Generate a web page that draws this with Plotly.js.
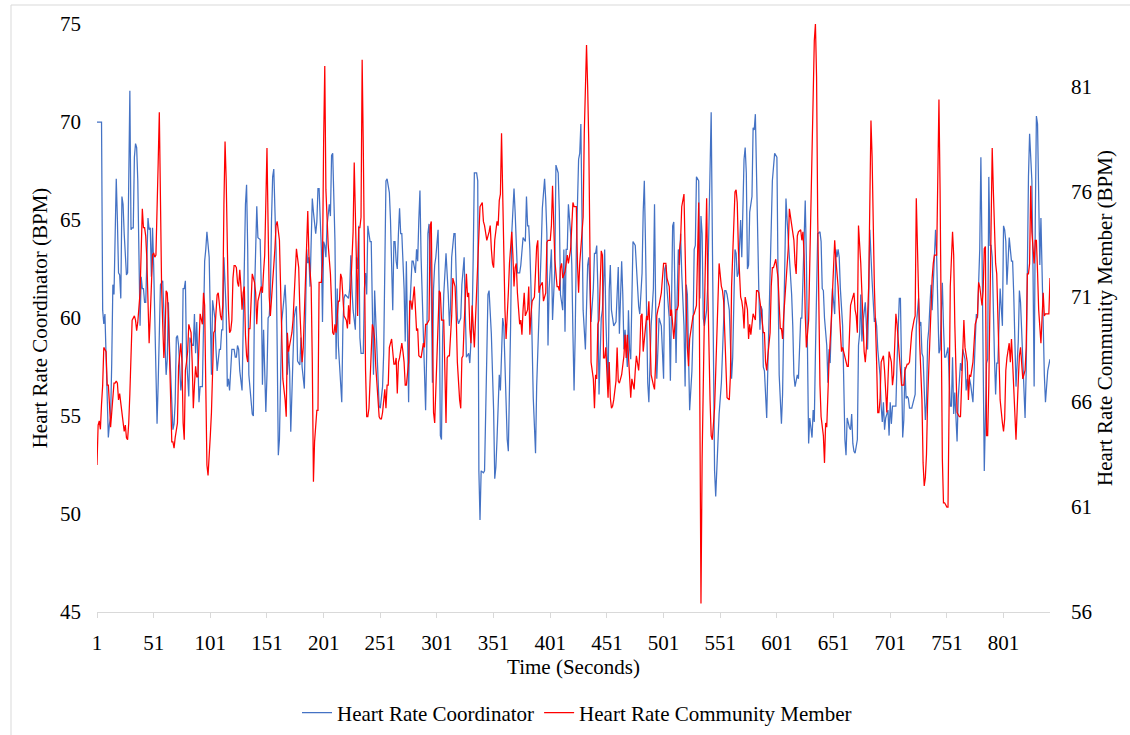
<!DOCTYPE html>
<html>
<head>
<meta charset="utf-8">
<script src="https://cdn.plot.ly/plotly-3.0.1.min.js"></script>
<style>
  html, body { margin: 0; padding: 0; background: #fff; }
  #chart { width: 1130px; height: 735px; }
</style>
</head>
<body>
<div id="chart"></div>
<script>
// Heart rate readings, [second, BPM]
const coordinatorReadings = [
[1,70.0],[5,70.0],[6,60.4],[7,59.7],[8,60.2],[9,58.4],[10,56.5],[11,53.9],[12,54.6],[13,54.9],[14,57.7],[15,61.7],[16,61.2],[17,65.4],[18,67.1],[19,65.0],[20,62.3],[21,62.2],[22,61.0],[23,66.2],[24,65.8],[25,64.3],[26,63.3],[27,62.2],[28,62.3],[29,67.4],[30,71.6],[31,64.5],[32,64.6],[33,64.6],[34,68.2],[35,68.9],[36,68.7],[37,67.0],[38,63.5],[39,59.6],[40,62.1],[41,61.5],[42,61.5],[43,60.8],[44,60.8],[46,65.1],[47,64.5],[48,64.6],[49,62.1],[50,64.6],[51,62.7],[52,60.0],[53,56.1],[54,54.6],[55,56.7],[56,60.4],[57,61.7],[59,61.9],[60,60.4],[61,58.4],[62,57.1],[63,57.9],[64,60.8],[65,58.6],[67,55.7],[68,54.3],[69,54.6],[70,55.7],[71,59.0],[72,59.1],[73,58.6],[75,56.3],[76,56.9],[77,61.5],[78,61.5],[79,61.9],[80,58.0],[81,56.9],[82,56.0],[83,59.0],[85,58.6],[86,58.6],[87,60.2],[88,58.2],[89,59.8],[90,57.9],[91,55.7],[92,56.5],[94,56.5],[95,59.6],[96,62.9],[97,63.5],[98,64.4],[100,63.1],[101,58.6],[102,57.1],[103,60.9],[104,60.4],[105,60.0],[106,58.4],[107,57.3],[109,58.4],[110,58.4],[111,59.4],[112,59.4],[113,63.1],[115,60.4],[116,56.5],[117,56.9],[118,56.3],[119,57.3],[120,58.4],[122,58.4],[123,58.0],[124,58.0],[125,58.6],[126,58.4],[127,57.3],[129,56.3],[130,59.6],[131,63.1],[132,65.8],[133,66.8],[134,63.5],[135,57.1],[137,55.5],[138,55.1],[139,55.0],
[140,61.2],[142,65.7],[143,64.1],[145,64.0],[146,61.5],[147,56.6],[148,59.4],[149,57.3],[150,55.2],[151,57.1],[152,60.0],[153,60.1],[154,61.2],[155,65.0],[156,67.2],[157,67.6],[159,63.5],[160,58.6],[161,53.0],[162,53.8],[163,56.9],[164,59.8],[166,61.0],[167,61.7],[168,60.4],[169,57.1],[170,58.4],[171,57.3],[172,54.2],[174,57.9],[175,60.0],[176,60.4],[177,60.6],[178,57.8],[180,57.6],[181,59.0],[182,57.5],[184,56.4],[185,59.8],[186,63.5],[187,62.8],[188,63.1],[189,61.6],[190,63.7],[191,66.1],[192,65.4],[194,64.3],[195,64.9],[196,66.6],[197,66.6],[199,63.5],[200,59.8],[201,63.9],[202,63.7],[203,63.1],[204,64.7],[206,65.8],[207,65.2],[208,68.3],[209,68.4],[211,63.9],[212,57.9],[213,61.5],[214,58.6],[216,56.5],[217,55.7],[218,59.6],[219,61.0],[220,61.2],[222,61.1],[223,61.0],[224,61.5],[225,63.2],[226,61.5],[227,60.4],[229,59.4],[230,63.1],[231,62.5],[232,64.7],[233,59.0],[234,58.2],[236,58.2],[237,61.5],[238,62.3],[239,61.2],[240,64.7],[242,63.9],[243,63.9],[244,60.0],[245,57.1],[246,61.4],[247,60.0],[249,56.9],[250,55.5],[251,55.4],[252,56.1],[253,56.5],[254,58.2],[256,67.0],[257,67.1],[258,66.6],[259,66.4],[260,65.0],[262,60.4],[263,63.9],[264,63.9],[265,62.9],[266,62.5],[267,64.3],[268,65.6],[269,64.3],[270,64.3],[272,61.5],[273,58.8],[274,62.9],[275,59.2],[276,55.7],[277,60.4],[279,62.9],[280,62.9],
[282,62.3],[283,63.5],[284,62.9],[285,65.0],[286,66.5],[287,63.1],[289,59.2],[290,56.7],[291,55.3],[292,58.4],[293,64.3],[294,64.8],[296,61.5],[297,56.7],[298,61.5],[299,62.7],[300,63.1],[302,64.5],[303,61.2],[304,54.0],[305,53.8],[306,59.0],[307,61.2],[309,63.3],[310,62.3],[311,61.2],[312,59.6],[313,60.6],[314,63.1],[316,64.3],[317,64.3],[318,62.3],[319,60.0],[320,59.7],[322,60.0],[323,61.7],[324,62.7],[325,63.1],[326,60.4],[327,58.0],[329,58.2],[330,57.7],[331,58.8],[332,59.6],[333,63.1],[334,67.4],[336,67.4],[337,67.0],[338,52.2],[339,49.7],[340,52.2],[342,52.1],[343,52.2],[344,54.6],[345,58.1],[346,61.2],[347,61.4],[349,59.2],[350,57.5],[351,55.3],[352,51.8],[353,52.4],[354,53.8],[355,55.7],[356,57.1],[357,56.3],[358,58.4],[359,60.0],[360,59.6],[362,54.9],[363,53.8],[364,53.2],[365,56.1],[366,59.6],[367,64.3],[368,65.4],[369,66.6],[370,65.4],[372,62.3],[373,62.3],[374,62.3],[375,62.7],[376,63.5],[377,64.1],[379,63.9],[380,66.2],[381,64.7],[382,64.7],[383,63.5],[384,61.5],[386,55.9],[387,54.2],[388,53.1],[389,56.5],[390,58.2],[391,59.0],[392,60.8],[393,63.5],[394,65.6],[396,67.1],[397,66.0],[398,64.3],[399,58.6],[400,61.5],[402,63.5],[403,59.9],[405,62.5],[406,67.8],[407,67.6],[408,67.4],[409,65.4],[410,61.2],[412,60.4],[413,63.5],[414,59.3],[415,63.5],[416,63.5],[417,65.8],[419,64.3],[420,62.7],
[421,59.2],[422,56.3],[423,59.2],[424,63.5],[426,68.1],[427,68.4],[428,69.9],[429,65.2],[430,60.4],[432,58.4],[433,60.4],[434,62.7],[435,63.1],[436,61.5],[437,59.8],[439,61.5],[440,63.3],[441,63.3],[442,63.7],[443,61.5],[444,56.1],[446,60.0],[447,60.4],[448,61.7],[449,63.5],[450,60.0],[452,56.5],[453,61.4],[454,62.7],[455,60.4],[456,60.0],[457,59.6],[459,59.8],[460,61.5],[461,62.6],[462,59.2],[463,61.4],[464,62.9],[465,61.2],[466,58.4],[467,59.4],[469,57.5],[470,60.4],[471,58.4],[472,57.9],[473,60.8],[474,63.9],[476,63.7],[477,62.5],[478,61.2],[479,60.6],[480,60.2],[482,62.3],[483,65.4],[484,67.0],[485,63.9],[486,59.6],[487,56.7],[488,55.7],[489,57.3],[490,59.6],[492,61.5],[493,65.8],[494,60.6],[495,56.9],[496,58.4],[497,60.0],[499,59.6],[500,57.7],[501,56.9],[502,62.5],[503,62.7],[504,61.5],[506,60.0],[507,56.8],[508,61.5],[509,64.7],[510,64.9],[512,57.7],[513,61.2],[514,63.5],[515,62.7],[516,64.3],[517,62.3],[519,59.6],[520,56.5],[521,61.7],[522,61.2],[523,58.8],[524,55.3],[526,57.3],[527,59.4],[528,63.5],[529,63.7],[530,67.2],[532,67.0],[533,61.0],[534,65.2],[535,64.3],[536,60.0],[537,59.6],[539,60.4],[540,61.7],[541,65.0],[542,68.9],[543,70.5],[544,64.3],[546,52.2],[547,50.9],[548,52.2],[549,53.8],[550,55.1],[552,56.7],[553,58.4],[554,60.4],[555,61.4],[556,61.4],[557,61.2],[559,60.4],[560,58.6],[561,56.9],[562,58.0],
[563,60.8],[564,63.5],[565,63.3],[566,62.1],[567,62.3],[569,65.0],[570,63.1],[572,68.1],[573,68.7],[574,67.4],[575,62.5],[576,62.7],[577,65.4],[579,66.2],[580,69.7],[581,69.6],[582,70.4],[583,67.0],[585,61.5],[586,59.4],[587,60.6],[588,60.4],[589,57.5],[590,57.3],[592,54.9],[593,57.5],[594,60.0],[595,61.9],[596,64.3],[597,67.0],[599,68.4],[600,68.3],[601,68.2],[602,62.1],[603,57.1],[605,54.6],[606,56.1],[607,59.6],[608,64.3],[609,66.1],[610,65.0],[612,63.1],[613,62.5],[614,61.2],[615,59.6],[616,57.1],[617,56.5],[619,57.1],[620,56.9],[621,58.1],[622,60.0],[623,60.0],[625,64.5],[626,66.0],[627,63.1],[628,59.2],[629,53.6],[630,54.9],[632,53.9],[633,55.3],[634,54.7],[635,58.2],[636,61.5],[637,64.3],[639,64.4],[640,63.9],[641,61.5],[642,61.4],[643,60.0],[645,58.6],[646,56.7],[647,58.4],[648,57.7],[649,59.6],[650,61.5],[652,60.2],[653,63.5],[654,63.1],[655,63.5],[656,63.1],[657,61.5],[659,59.6],[660,55.7],[661,53.8],[662,53.0],[663,54.9],[665,54.4],[666,54.3],[667,55.1],[668,53.6],[669,53.2],[670,53.1],[672,53.8],[673,58.6],[674,59.2],[675,61.2],[676,58.8],[677,59.8],[679,60.8],[680,59.8],[681,58.4],[682,60.8],[683,64.5],[685,61.9],[686,60.4],[687,59.8],[688,60.0],[689,59.6],[690,58.4],[692,57.1],[693,55.5],[694,54.7],[695,55.7],[696,54.3],[697,54.9],[699,55.3],[700,54.0],[701,55.7],[702,54.6],[703,55.5],
[705,55.5],[706,55.5],[707,57.7],[709,61.0],[710,61.0],[711,57.7],[712,53.9],[713,54.8],[714,57.5],[715,55.9],[716,56.0],[717,55.9],[718,55.4],[720,55.4],[721,55.7],[722,55.9],[723,56.1],[724,59.6],[726,61.0],[727,59.6],[728,59.8],[729,58.2],[730,58.0],[732,54.8],[733,55.7],[734,58.8],[735,59.4],[736,60.6],[737,61.7],[738,60.4],[740,62.7],[741,64.5],[742,63.1],[743,59.6],[744,58.2],[745,58.4],[747,61.8],[748,59.6],[749,58.0],[750,58.0],[751,58.2],[752,58.5],[754,55.5],[755,55.5],[756,58.0],[757,55.1],[758,56.2],[760,53.7],[761,55.9],[762,56.7],[763,57.7],[764,57.3],[765,58.4],[767,57.9],[768,56.3],[769,56.9],[770,56.3],[771,56.9],[772,56.6],[774,55.7],[775,57.9],[776,58.8],[777,60.2],[778,60.0],[780,63.5],[781,68.2],[782,63.5],[783,57.9],[784,52.2],[786,57.7],[787,57.9],[788,67.2],[789,63.7],[790,63.7],[791,63.1],[793,58.0],[794,56.1],[795,57.7],[796,57.7],[797,59.6],[798,61.5],[800,59.6],[801,64.7],[802,64.5],[803,63.9],[804,61.7],[805,63.1],[806,64.1],[808,62.9],[809,62.9],[810,61.2],[811,59.0],[812,56.5],[814,58.8],[815,61.4],[816,60.8],[817,59.2],[818,57.1],[820,54.9],[821,57.3],[822,64.3],[823,67.2],[824,69.4],[826,67.0],[827,62.5],[828,56.5],[829,64.9],[830,70.3],[831,69.9],[832,65.0],[833,62.7],[834,65.1],[835,61.7],[837,57.1],[838,55.7],[839,56.5],[840,57.3],[842,57.9]
];

const communityMemberReadings = [
[1,63.0],[2,64.9],[3,65.1],[4,64.7],[5,65.9],[6,66.8],[7,68.6],[9,68.4],[10,66.8],[11,66.8],[12,65.9],[13,64.8],[14,65.5],[15,66.1],[16,66.9],[17,66.9],[18,67.0],[19,66.9],[20,66.1],[21,66.4],[22,65.9],[23,65.3],[25,64.6],[26,64.9],[27,64.3],[28,64.2],[29,65.0],[30,66.4],[31,68.2],[32,69.9],[34,70.1],[35,69.9],[36,69.4],[37,69.8],[39,71.2],[40,74.1],[41,75.2],[42,74.3],[43,74.3],[44,73.9],[45,72.8],[46,70.8],[47,68.8],[48,70.1],[49,71.9],[50,73.0],[51,73.1],[52,72.9],[53,73.0],[54,74.8],[55,77.4],[56,79.8],[57,74.3],[58,71.5],[59,69.7],[60,68.1],[61,69.0],[62,71.3],[63,71.2],[64,70.1],[65,68.2],[66,65.9],[67,64.1],[68,64.1],[69,63.8],[70,64.3],[71,64.7],[72,65.0],[73,67.7],[74,68.4],[75,68.8],[76,67.9],[77,65.0],[78,64.2],[79,67.5],[80,67.9],[81,68.4],[82,69.7],[83,69.5],[84,69.3],[85,67.9],[86,65.7],[87,66.8],[88,67.7],[89,67.2],[90,67.2],[92,70.2],[93,69.9],[94,69.7],[95,71.2],[96,70.6],[97,66.8],[98,63.0],[99,62.5],[100,63.3],[101,64.4],[102,65.5],[103,67.3],[104,69.3],[105,69.4],[106,70.1],[107,71.1],[108,71.2],[109,70.6],[110,70.1],[111,69.9],[112,70.6],[113,75.4],[114,78.4],[115,76.6],[116,73.3],[117,70.4],[118,69.3],[119,69.4],[120,69.9],[121,71.9],[122,72.5],[123,72.5],[124,72.4],[125,71.7],[126,71.5],[127,72.3],[128,71.5],[129,70.4],[130,71.2],[131,71.5],[132,69.2],[133,68.2],[134,67.9],[135,69.5],[136,69.5],[137,71.2],[138,72.1],
[140,71.7],[141,71.2],[142,69.7],[143,70.8],[146,71.5],[147,71.2],[148,72.2],[149,73.0],[150,75.5],[151,78.1],[152,74.4],[153,71.0],[154,70.1],[156,71.5],[157,72.6],[158,73.3],[159,74.4],[160,74.6],[162,73.7],[163,71.5],[164,69.0],[165,67.1],[167,66.1],[168,65.3],[169,69.3],[170,68.4],[172,69.0],[173,69.3],[174,69.9],[175,70.8],[176,72.2],[177,73.3],[179,72.4],[180,70.4],[181,68.8],[182,67.9],[183,68.6],[184,70.4],[186,73.3],[187,75.1],[188,73.0],[189,72.4],[190,71.5],[191,67.9],[192,62.2],[193,64.1],[194,65.1],[195,65.6],[196,65.6],[197,71.7],[199,71.7],[200,72.6],[201,78.4],[202,82.0],[203,76.1],[204,74.6],[205,73.5],[207,72.1],[208,70.4],[209,69.3],[210,69.2],[211,69.7],[212,69.3],[214,70.8],[215,70.8],[216,72.1],[217,71.9],[218,70.6],[219,70.1],[221,69.9],[222,69.5],[223,70.6],[224,69.7],[225,71.5],[227,74.1],[228,77.4],[229,74.6],[230,71.7],[231,70.1],[232,74.3],[233,74.3],[234,74.8],[235,82.3],[236,78.1],[237,71.2],[238,67.5],[239,65.3],[240,65.3],[241,65.7],[243,67.9],[244,69.7],[245,69.5],[246,69.0],[247,67.7],[249,66.2],[250,65.3],[251,65.2],[252,65.2],[253,65.5],[255,66.6],[256,65.7],[257,66.8],[258,66.8],[259,68.6],[261,69.0],[262,68.2],[263,67.8],[264,67.8],[265,68.1],[266,66.4],[267,67.9],[268,68.1],[270,68.8],[271,68.4],[272,67.9],[273,66.8],[274,66.8],[276,67.9],[277,70.8],[278,70.8],[279,70.4],
[281,71.5],[282,70.2],[283,69.4],[284,69.5],[285,68.2],[287,68.1],[288,68.6],[289,68.8],[290,68.6],[291,69.7],[292,69.7],[294,69.9],[295,74.4],[296,74.6],[297,69.7],[298,65.5],[299,65.0],[301,68.6],[302,70.4],[303,71.3],[304,71.2],[305,69.9],[307,69.9],[308,67.1],[309,65.0],[310,68.1],[311,68.2],[312,68.2],[314,70.1],[315,71.9],[316,71.7],[317,71.5],[318,70.1],[319,67.9],[321,66.1],[322,65.7],[323,68.1],[324,68.2],[325,69.7],[327,72.1],[328,71.0],[329,71.2],[330,69.5],[331,68.8],[332,70.6],[334,68.6],[335,69.9],[336,71.2],[337,72.6],[338,74.1],[339,75.3],[341,75.5],[342,74.6],[343,74.4],[344,73.9],[345,73.7],[347,74.1],[348,74.4],[349,73.3],[350,72.6],[351,72.4],[352,73.7],[354,74.6],[355,74.4],[356,75.6],[357,75.9],[358,78.8],[359,75.7],[361,70.4],[362,69.0],[363,69.9],[364,71.2],[365,72.6],[367,74.1],[368,73.0],[369,71.5],[370,72.4],[371,72.6],[372,71.2],[374,69.7],[375,69.9],[376,69.2],[377,70.4],[378,71.2],[379,70.1],[381,70.4],[382,71.5],[383,69.2],[384,70.2],[385,70.8],[387,71.0],[388,72.2],[389,73.4],[390,73.7],[391,71.2],[392,71.5],[394,71.7],[395,70.8],[396,71.0],[397,71.2],[398,73.6],[399,73.7],[401,73.7],[402,74.4],[403,76.3],[404,74.6],[405,72.8],[407,71.5],[408,71.5],[409,71.3],[410,72.4],[411,72.6],[412,71.9],[414,72.2],[415,72.6],[416,73.0],[417,72.6],[418,73.0],[419,73.3],[421,75.5],
[422,75.3],[423,75.3],[424,75.3],[425,72.6],[426,71.2],[427,72.6],[429,74.4],[430,74.8],[431,78.8],[432,81.5],[433,83.0],[434,81.0],[435,78.3],[436,73.3],[437,67.9],[439,67.1],[440,65.7],[441,67.3],[442,67.1],[443,69.7],[444,69.9],[446,73.2],[447,73.0],[448,68.1],[449,68.1],[450,68.6],[452,66.2],[453,67.9],[454,66.2],[455,65.7],[456,65.8],[457,66.1],[459,67.0],[460,68.6],[461,67.0],[462,66.9],[463,67.1],[464,67.3],[466,68.2],[467,69.2],[468,68.1],[469,69.2],[470,68.2],[472,66.2],[473,67.1],[474,66.8],[475,66.6],[476,67.5],[477,68.2],[479,67.5],[480,68.4],[481,70.1],[482,70.2],[483,68.4],[484,69.0],[486,70.1],[487,69.9],[488,70.8],[489,69.2],[490,67.3],[492,66.8],[493,66.6],[494,67.9],[495,70.1],[496,70.4],[497,70.6],[499,71.2],[500,71.9],[501,72.6],[502,72.6],[503,72.6],[504,71.9],[506,71.5],[507,70.1],[508,70.4],[509,69.7],[510,69.0],[512,70.4],[513,70.4],[514,70.6],[515,73.2],[516,73.7],[517,75.3],[519,75.9],[520,72.6],[521,70.6],[522,68.6],[523,67.7],[524,69.0],[526,69.7],[527,70.1],[528,70.2],[529,70.4],[530,70.6],[532,75.5],[533,66.1],[534,56.4],[535,63.3],[536,67.9],[537,70.1],[538,73.0],[539,75.7],[540,71.5],[541,67.9],[542,66.1],[543,64.4],[544,64.2],[546,65.7],[547,67.3],[548,68.8],[549,70.4],[550,72.6],[552,71.5],[553,71.3],[554,70.8],[555,69.3],[556,67.3],[557,66.2],[559,66.1],[560,67.3],[561,71.5],[562,73.3],
[564,76.0],[565,76.1],[566,75.5],[567,73.3],[569,71.0],[570,70.8],[571,70.4],[572,69.5],[573,71.0],[575,70.4],[576,69.0],[577,69.7],[578,69.2],[579,69.7],[580,70.2],[582,69.9],[583,71.3],[584,71.3],[585,71.2],[586,70.8],[587,70.4],[589,69.3],[590,69.3],[591,67.9],[592,67.5],[593,68.2],[595,69.3],[596,71.5],[597,72.4],[598,72.4],[599,72.6],[600,72.8],[602,71.9],[603,70.2],[604,69.5],[605,69.5],[606,69.0],[607,70.1],[609,71.5],[610,72.2],[611,73.3],[612,75.2],[613,74.8],[615,74.1],[616,73.7],[617,72.6],[618,72.1],[619,73.9],[620,74.1],[622,74.2],[623,73.7],[624,74.1],[625,73.0],[626,70.2],[627,68.6],[629,69.9],[630,72.6],[631,74.8],[632,78.8],[633,81.9],[634,83.2],[635,84.0],[636,81.5],[637,74.8],[638,69.7],[639,66.8],[640,65.3],[642,64.4],[643,63.1],[644,65.0],[645,64.8],[646,66.6],[647,67.9],[649,69.9],[650,71.5],[651,72.1],[652,73.7],[653,72.8],[655,71.5],[656,70.4],[657,69.2],[658,68.4],[659,68.6],[660,68.4],[662,67.9],[663,67.7],[664,67.7],[665,69.3],[666,70.6],[667,70.8],[669,71.2],[670,70.4],[671,70.1],[672,69.3],[673,74.4],[675,72.6],[676,71.2],[677,69.3],[678,68.4],[679,67.9],[680,68.6],[682,71.5],[683,77.4],[684,79.4],[685,77.7],[686,74.8],[687,71.5],[689,67.9],[690,65.5],[691,65.5],[692,66.1],[693,67.9],[695,68.2],[696,67.5],[697,66.1],[698,65.5],[699,67.0],[700,68.4],[702,67.9],[703,66.8],
[704,67.3],[705,68.8],[706,70.2],[707,69.7],[709,68.2],[710,67.9],[711,66.8],[712,66.8],[713,66.8],[714,67.5],[716,67.8],[717,67.8],[718,67.9],[719,68.6],[720,69.3],[722,69.9],[723,70.1],[724,75.7],[725,73.9],[726,71.2],[727,68.8],[729,66.1],[730,63.1],[731,62.0],[732,62.4],[733,63.5],[734,66.1],[736,69.3],[737,70.8],[738,71.9],[739,72.6],[740,73.0],[742,73.0],[743,77.0],[744,80.4],[745,76.1],[746,69.3],[747,63.3],[748,61.2],[749,61.2],[751,61.0],[752,61.0],[753,66.1],[754,71.5],[756,74.1],[757,73.0],[758,69.7],[759,67.0],[760,65.5],[762,65.3],[763,65.3],[764,66.8],[765,68.2],[766,69.9],[767,68.6],[769,67.9],[770,66.1],[771,67.3],[772,67.2],[773,67.7],[774,67.9],[776,69.7],[777,69.9],[778,70.1],[779,71.7],[780,71.5],[782,70.6],[783,71.3],[784,73.3],[785,73.4],[786,64.4],[787,64.4],[788,66.8],[789,71.5],[790,76.1],[791,78.1],[792,76.1],[793,73.7],[794,72.6],[795,72.1],[796,70.4],[797,68.6],[798,66.1],[800,65.0],[801,64.6],[802,65.2],[803,67.5],[804,68.1],[806,68.8],[807,67.9],[808,69.0],[809,67.9],[810,66.8],[811,65.2],[812,64.2],[814,67.0],[815,68.2],[816,68.6],[817,67.9],[818,67.1],[820,67.5],[821,68.6],[822,72.1],[823,72.1],[824,72.6],[825,76.3],[826,74.1],[828,72.6],[829,73.7],[830,73.7],[831,72.2],[832,70.4],[834,68.8],[835,70.1],[836,71.2],[837,70.1],[838,70.2],[839,70.2],[841,70.2],[842,71.9]
];

const timeTicks = [1, 51, 101, 151, 201, 251, 301, 351, 401, 451, 501, 551, 601, 651, 701, 751, 801];
const coordinatorTicks = [45, 50, 55, 60, 65, 70, 75];
const memberTicks = [56, 61, 66, 71, 76, 81];

const W = 1130, H = 735;
const M = { l: 97, r: 80, t: 24, b: 123, autoexpand: false };
const plotW = W - M.l - M.r, plotH = H - M.t - M.b;
const px2x = px => (px - M.l) / plotW;
const px2y = py => (H - M.b - py) / plotH;
const txt = { family: 'serif', size: 21, color: '#000000' };

const traces = [
  {
    x: coordinatorReadings.map(p => p[0]),
    y: coordinatorReadings.map(p => p[1]),
    name: 'Heart Rate Coordinator',
    type: 'scatter', mode: 'lines',
    line: { color: '#4472C4', width: 1.25 },
    yaxis: 'y'
  },
  {
    x: communityMemberReadings.map(p => p[0]),
    y: communityMemberReadings.map(p => p[1]),
    name: 'Heart Rate Community Member',
    type: 'scatter', mode: 'lines',
    line: { color: '#FF0000', width: 1.25 },
    yaxis: 'y2'
  }
];

const layout = {
  width: W, height: H,
  margin: M,
  paper_bgcolor: '#ffffff', plot_bgcolor: '#ffffff',
  font: txt,
  showlegend: true,
  legend: {
    orientation: 'h', x: px2x(577), xanchor: 'center',
    y: px2y(713), yanchor: 'middle',
    font: txt, itemwidth: 30, traceorder: 'normal'
  },
  xaxis: {
    range: [1, 842],
    tickvals: timeTicks, ticktext: timeTicks.map(String),
    ticks: 'outside', ticklen: 5, tickcolor: '#d9d9d9', tickwidth: 1,
    ticklabelstandoff: 7,
    showline: true, linecolor: '#d9d9d9', linewidth: 1,
    showgrid: false, zeroline: false,
    tickfont: txt,
    title: { text: 'Time (Seconds)', font: txt, standoff: 1 }
  },
  yaxis: {
    range: [45, 75], tickvals: coordinatorTicks,
    showgrid: false, zeroline: false, showline: false, ticks: '',
    ticklabelstandoff: 15,
    tickfont: txt,
    title: { text: 'Heart Rate Coordinator (BPM)', font: txt, standoff: 6 }
  },
  yaxis2: {
    overlaying: 'y', side: 'right',
    range: [56, 84], tickvals: memberTicks,
    showgrid: false, zeroline: false, showline: false, ticks: '',
    ticklabelstandoff: 20,
    tickfont: txt,
    title: { text: 'Heart Rate Community Member (BPM)', font: txt, standoff: 6 }
  },
  shapes: [
    { type: 'line', xref: 'paper', yref: 'paper', x0: px2x(11), x1: px2x(11), y0: px2y(5), y1: px2y(735), line: { color: '#d9d9d9', width: 1 } },
    { type: 'line', xref: 'paper', yref: 'paper', x0: px2x(11), x1: px2x(1130), y0: px2y(5), y1: px2y(5), line: { color: '#d9d9d9', width: 1 } }
  ]
};

Plotly.newPlot('chart', traces, layout, { displayModeBar: false, staticPlot: true });
</script>
</body>
</html>
